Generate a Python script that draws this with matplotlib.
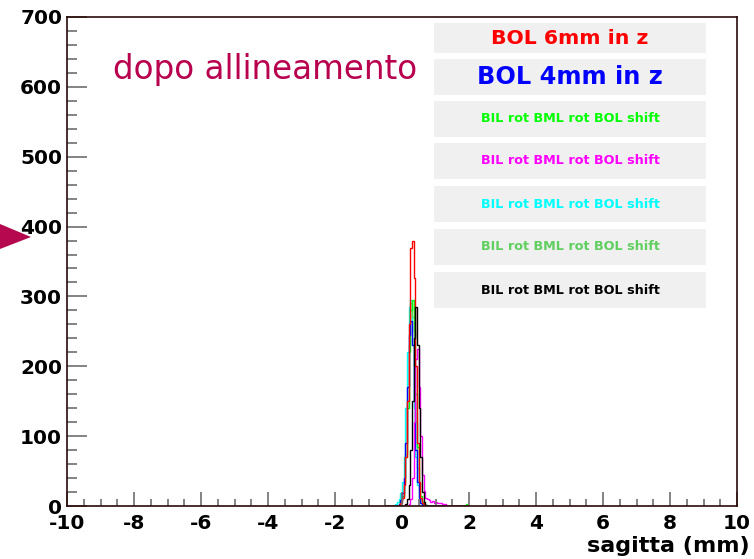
import numpy as np
import matplotlib.pyplot as plt
from matplotlib.patches import Rectangle, Polygon
from matplotlib.ticker import MultipleLocator

plt.rcParams['axes.unicode_minus'] = False

# histogram binning: 0.05 mm bins from -0.5 to 2.0 mm (counts outside are 0)
bin_edges = np.round(np.arange(-0.5, 2.0001, 0.05), 3)

labels = ['BOL 6mm in z', 'BOL 4mm in z',
          'BIL rot BML rot BOL shift', 'BIL rot BML rot BOL shift',
          'BIL rot BML rot BOL shift', 'BIL rot BML rot BOL shift',
          'BIL rot BML rot BOL shift']
colors = ['#ff0000', '#0000ff', '#00ff00', '#ff00ff', '#00ffff', '#5fcf5f', '#000000']

red = [0, 0, 0, 0, 0, 0, 0, 0, 2, 5, 12, 30, 70, 150, 260, 370, 380, 326, 200, 90,
       35, 12, 5, 2, 0, 0, 0, 0, 0, 0, 0, 0, 0, 0, 0, 0, 0, 0, 0, 0,
       0, 0, 0, 0, 0, 0, 0, 0, 0, 0]
blue = [0, 0, 0, 0, 0, 0, 0, 0, 3, 8, 18, 40, 90, 170, 245, 265, 230, 150, 80, 35,
        12, 4, 1, 0, 0, 0, 0, 0, 0, 0, 0, 0, 0, 0, 0, 0, 0, 0, 0, 0,
        0, 0, 0, 0, 0, 0, 0, 0, 0, 0]
green = [0, 0, 0, 0, 0, 0, 0, 0, 3, 8, 15, 35, 70, 140, 220, 280, 295, 250, 160, 85,
         35, 14, 6, 3, 1, 0, 0, 0, 0, 0, 0, 0, 0, 0, 0, 0, 0, 0, 0, 0,
         0, 0, 0, 0, 0, 0, 0, 0, 3, 0]
magenta = [0, 0, 0, 0, 0, 0, 0, 0, 0, 0, 0, 0, 0, 0, 3, 10, 40, 120, 210, 225,
           170, 100, 45, 22, 12, 10, 8, 6, 7, 5, 6, 4, 5, 4, 3, 3, 2, 0, 0, 0,
           0, 0, 0, 0, 0, 0, 0, 0, 0, 0]
cyan = [0, 0, 0, 0, 0, 0, 3, 6, 10, 18, 35, 70, 140, 220, 285, 295, 230, 140, 70, 30,
        12, 5, 2, 0, 0, 0, 0, 0, 0, 0, 0, 0, 0, 0, 0, 0, 0, 0, 0, 0,
        0, 0, 0, 0, 0, 0, 0, 0, 0, 0]
light_green = [0, 0, 0, 0, 0, 0, 0, 0, 2, 6, 14, 32, 75, 150, 230, 290, 270, 200, 120, 55,
               20, 8, 3, 0, 0, 0, 0, 0, 0, 0, 0, 0, 0, 0, 0, 0, 0, 0, 0, 0,
               0, 0, 0, 0, 0, 0, 0, 0, 0, 0]
black = [0, 0, 0, 0, 0, 0, 0, 0, 0, 0, 0, 0, 3, 10, 30, 80, 150, 240, 285, 230,
         140, 70, 20, 6, 2, 0, 0, 0, 0, 0, 0, 0, 0, 0, 0, 0, 0, 0, 0, 0,
         0, 0, 0, 0, 0, 0, 0, 0, 0, 0]

series = [red, blue, green, magenta, cyan, light_green, black]

fig = plt.figure(figsize=(7.54, 5.59), dpi=100)
ax = fig.add_axes([67 / 754, 1 - 506 / 559, 670 / 754, 489 / 559])

order = [4, 5, 2, 1, 3, 0, 6]
for i in order:
    ax.stairs(series[i], bin_edges, color=colors[i], linewidth=1.0)

ax.set_xlim(-10, 10)
ax.set_ylim(0, 700)

ax.xaxis.set_major_locator(MultipleLocator(2))
ax.xaxis.set_minor_locator(MultipleLocator(0.5))
ax.yaxis.set_major_locator(MultipleLocator(100))
ax.yaxis.set_minor_locator(MultipleLocator(20))
ax.tick_params(which='both', direction='in', color='#6e6e6e', width=1.2)
ax.tick_params(axis='x', which='major', length=10, pad=5.5)
ax.tick_params(axis='x', which='minor', length=5)
ax.tick_params(axis='y', which='major', length=14.5, pad=3.5)
ax.tick_params(axis='y', which='minor', length=7.5)
for lab in ax.get_xticklabels() + ax.get_yticklabels():
    lab.set_fontfamily('DejaVu Sans')
    lab.set_fontweight('bold')
    lab.set_fontsize(14.5)
for sp in ax.spines.values():
    sp.set_color('#2a0a0a')
    sp.set_linewidth(1.2)

fig.text(750 / 754, 1 - 546 / 559, 'sagitta (mm)', fontfamily='DejaVu Sans',
         fontweight='bold', fontsize=16, ha='right', va='center')

# legend boxes
box_tops = [23, 59, 101, 143, 186, 229, 272]
box_h = [30, 36, 36, 36, 36, 36, 36]
sizes = [14.7, 17.3, 9.2, 9.2, 9.2, 9.2, 9.2]
for k in range(7):
    y0 = 1 - (box_tops[k] + box_h[k] - 17) / 489
    ax.add_patch(Rectangle(((434 - 67) / 670, y0), (706 - 434) / 670, box_h[k] / 489,
                           transform=ax.transAxes, facecolor='#f0f0f0',
                           edgecolor='none', zorder=3))
    ax.text((570 - 67) / 670, y0 + box_h[k] / 2 / 489, labels[k], transform=ax.transAxes,
            color=colors[k], fontsize=sizes[k], fontweight='bold',
            fontfamily='DejaVu Sans', ha='center', va='center', zorder=4)

ax.text((113 - 67) / 670, 1 - (70 - 17) / 489, 'dopo allineamento', transform=ax.transAxes,
        color='#b8004e', fontsize=23.5, fontfamily='DejaVu Sans', va='center', ha='left')

# arrow marker on the left edge
fig.patches.append(Polygon([(0, 1 - 224 / 559), (31 / 754, 1 - 237 / 559), (0, 1 - 249 / 559)],
                           closed=True, transform=fig.transFigure,
                           facecolor='#b5084f', edgecolor='none'))

fig.savefig('out.png', dpi=100)
